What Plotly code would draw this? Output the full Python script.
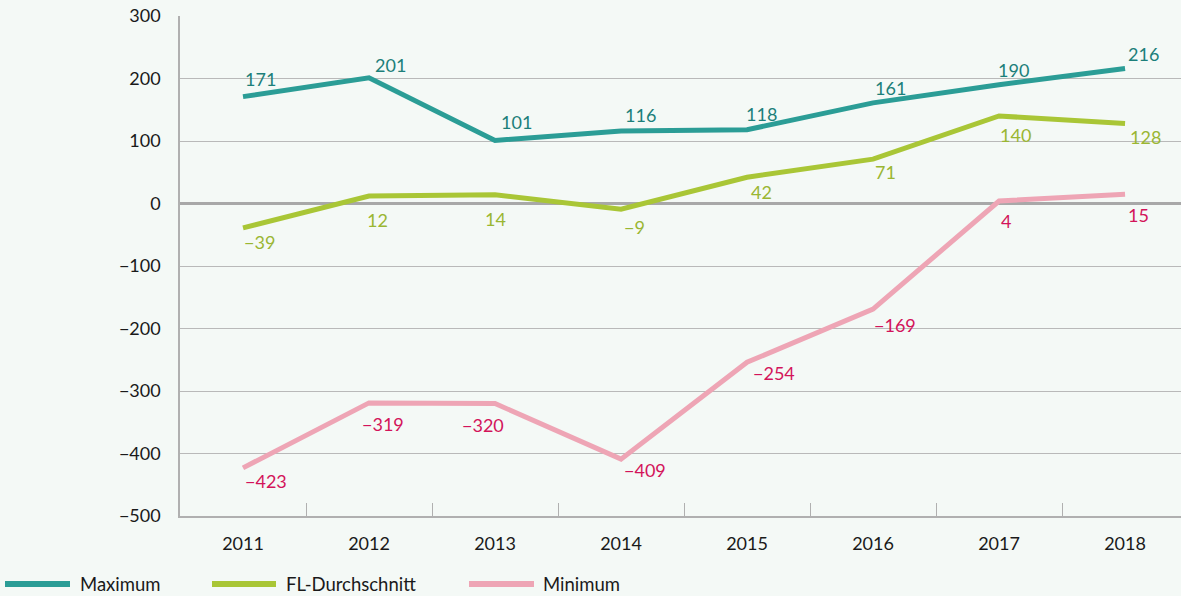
import plotly.graph_objects as go

years = ["2011", "2012", "2013", "2014", "2015", "2016", "2017", "2018"]
maximum = [171, 201, 101, 116, 118, 161, 190, 216]
fl_avg = [-39, 12, 14, -9, 42, 71, 140, 128]
minimum = [-423, -319, -320, -409, -254, -169, 4, 15]

series_names = ["Maximum", "FL-Durchschnitt", "Minimum"]
line_colors = ["#2b9d96", "#a9c636", "#eea5b5"]
text_colors = ["#1c7f7a", "#9ab632", "#d3145a"]

# label offsets (pixels) relative to each point: horizontal shift of left edge, vertical shift of centre
dx_max = [0, 4, 4, 2, -3, 0, -3, 1]
dy_max = [-18, -13, -18, -16, -16, -15, -15, -15]
dx_fl = [-1, -4, -12, 1, 2, 0, -1, 3]
dy_fl = [14, 24, 24, 18, 15, 13, 19, 13]
dx_min = [0, -9, -35, 1, 4, -1, 0, 1]
dy_min = [13, 21, 21, 11, 11, 16, 20, 21]


def fmt(v):
    return str(v).replace("-", "\u2212")


FONT = "Lato, 'Open Sans', sans-serif"
FS = 18
fig = go.Figure()
for name, vals, lc, tc, dxs, dys in zip(series_names, [maximum, fl_avg, minimum],
                                        line_colors, text_colors,
                                        [dx_max, dx_fl, dx_min], [dy_max, dy_fl, dy_min]):
    fig.add_trace(go.Scatter(
        x=years, y=vals, name=name, mode="lines",
        line=dict(color=lc, width=5), showlegend=False, hoverinfo="skip",
    ))
    for i, (v, dx, dy) in enumerate(zip(vals, dxs, dys)):
        # category axis: position annotations by category index
        fig.add_annotation(x=i, y=v, xref="x", yref="y", text=fmt(v), showarrow=False,
                           xanchor="left", yanchor="middle", xshift=dx, yshift=-dy,
                           font=dict(color=tc, size=FS, family=FONT))

fig.update_layout(
    width=1181, height=596,
    margin=dict(l=180, r=0, t=16, b=80),
    paper_bgcolor="#f4f9f6", plot_bgcolor="#f4f9f6",
    font=dict(family=FONT, size=FS, color="#1a1a1a"),
    xaxis=dict(type="category", range=[-0.5, 7.444], showgrid=False,
               tickson="boundaries", ticks="inside", ticklen=13, tickcolor="#b0b0b0",
               showline=True, linecolor="#b0b0b0", linewidth=1.5,
               ticklabelstandoff=11, tickfont=dict(size=FS)),
    yaxis=dict(range=[-500, 300], showgrid=True, gridcolor="#b9b9b9",
               gridwidth=1, zeroline=True, zerolinecolor="#a8a8a8", zerolinewidth=2.5,
               showline=True, linecolor="#b0b0b0", linewidth=1.5,
               ticklabelstandoff=14, tickfont=dict(size=FS)),
)
fig.update_yaxes(tickvals=list(range(-500, 301, 100)),
                 ticktext=[fmt(v) for v in range(-500, 301, 100)])

# legend drawn below the plot
leg_items = [(5, 70, 78), (212, 276, 284), (469, 534, 541)]
pw = 1181 - 180
ly = (516 - 584) / 500
for (x0, x1, tx), name, lc in zip(leg_items, series_names, line_colors):
    fig.add_shape(type="line", xref="paper", yref="paper",
                  x0=(x0 - 180) / pw, x1=(x1 - 180) / pw, y0=ly, y1=ly,
                  line=dict(color=lc, width=6))
    fig.add_annotation(xref="paper", yref="paper", x=(tx - 180) / pw, y=ly,
                       text=name, showarrow=False, xanchor="left", yanchor="middle",
                       font=dict(size=18.5, family=FONT, color="#1a1a1a"))

fig.write_html("out.html", config={"displayModeBar": False})

with open("out.html", encoding="utf-8") as f:
    html = f.read()
html = html.replace("<body>", '<body style="margin:0;padding:0;overflow:hidden;background:#f4f9f6">', 1)
with open("out.html", "w", encoding="utf-8") as f:
    f.write(html)
